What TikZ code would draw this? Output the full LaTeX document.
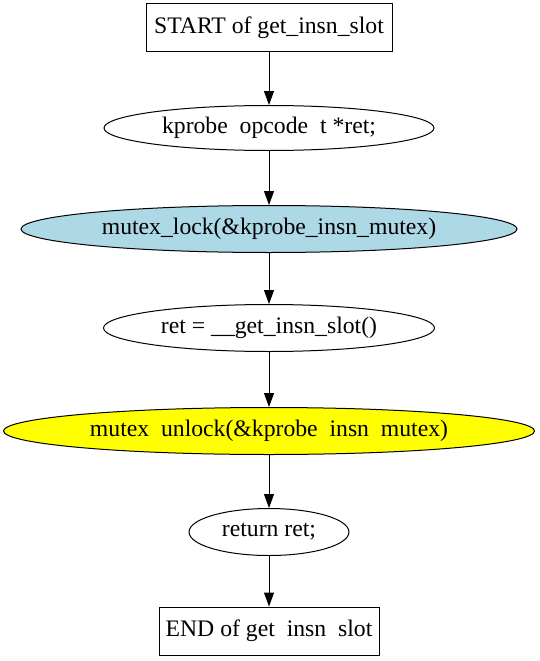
\documentclass[tikz,border=0pt]{standalone}
\usepackage{fontspec}
\setmainfont{Liberation Serif}
\usepackage{tikz}
\usetikzlibrary{shapes.geometric,arrows.meta}

\tikzset{
    stmt/.style={draw, ellipse, inner sep=0pt, minimum height=47pt},
    endbox/.style={draw, rectangle, inner sep=0pt, minimum height=48pt},
    flow/.style={-{Triangle[length=14pt,width=10pt]}},
}

\begin{document}
\begin{tikzpicture}[x=1pt, y=-1pt, line width=1pt, font=\fontsize{23.7}{27}\selectfont]
    \useasboundingbox (0,0) rectangle (539,661);
    \node[endbox, minimum width=246pt] (start) at (269,28) {START of get\_insn\_slot};
    \node[stmt, minimum width=330pt, minimum height=45pt] (decl) at (269,128) {kprobe~~opcode~~t *ret;};
    \node[stmt, minimum width=496pt, fill={rgb,255:red,173;green,216;blue,230}] (lock) at (269,229) {mutex\_lock(\&kprobe\_insn\_mutex)};
    \node[stmt, minimum width=331pt] (call) at (269,328) {ret = \_\_get\_insn\_slot()};
    \node[stmt, minimum width=531pt, fill={rgb,255:red,255;green,255;blue,0}] (unlock) at (269,431) {mutex~~unlock(\&kprobe~~insn~~mutex)};
    \node[stmt, minimum width=160pt] (ret) at (269,532) {return ret;};
    \node[endbox, minimum width=220pt] (stop) at (269,631) {END of get~~insn~~slot};
    \draw[flow] (start) -- (decl);
    \draw[flow] (decl) -- (lock);
    \draw[flow] (lock) -- (call);
    \draw[flow] (call) -- (unlock);
    \draw[flow] (unlock) -- (ret);
    \draw[flow] (ret) -- (stop);
\end{tikzpicture}
\end{document}
